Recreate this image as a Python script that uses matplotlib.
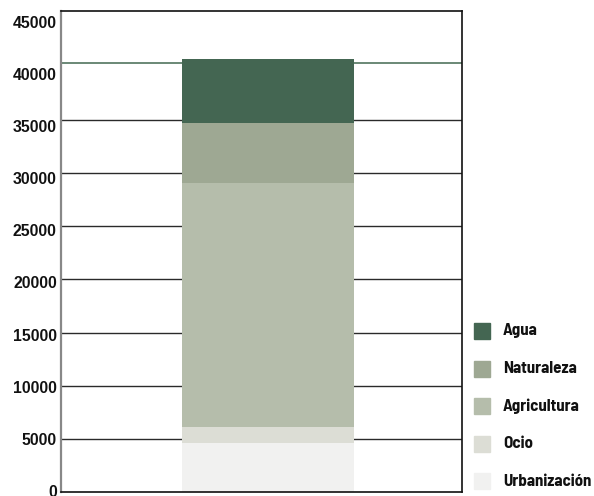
import matplotlib
matplotlib.use("Agg")
import matplotlib.pyplot as plt
from matplotlib.patches import Rectangle

# Land use stacked from the bottom up
categorias = ["Urbanización", "Ocio", "Agricultura", "Naturaleza", "Agua"]
valores = [4600, 1500, 23000, 5650, 6000]
colores = ["#f1f1f0", "#dcddd5", "#b5bdab", "#9ea893", "#446652"]
referencia = 40400
ticks = [0, 5000, 10000, 15000, 20000, 25000, 30000, 35000, 40000, 45000]
tick_labels = [str(t) for t in ticks]

num_font = ["Liberation Sans", "DejaVu Sans"]
leg_font = ["Barlow Semi Condensed", "DejaVu Sans"]

fig = plt.figure(figsize=(5.94, 4.96), dpi=100)
W, H = 594, 496
ax = fig.add_axes([61 / W, (496 - 492) / H, (462 - 61) / W, (492 - 11) / H])

ax.set_xlim(-0.722, 0.677)
ax.set_ylim(0, 45250)

# horizontal rules
for t in ticks[1:-2]:
    ax.axhline(t, color="#2a2a2a", lw=1.0, zorder=1)
ax.axhline(referencia, color="#5f7f6b", lw=1.3, zorder=1)

# stacked bar
base = 0
for cat, v, c in zip(categorias, valores, colores):
    ax.bar(0, v, bottom=base, width=0.6, color=c, zorder=2, label=cat)
    base += v

ax.set_xticks([])
ax.set_yticks([])
for side in ["top", "right", "bottom"]:
    ax.spines[side].set_color("#111111")
    ax.spines[side].set_linewidth(1.2)
ax.spines["left"].set_color("#888888")
ax.spines["left"].set_linewidth(1.6)

# value labels on the left
lab = ax.twinx()
lab.set_ylim(-96, 46020)
lab.yaxis.tick_left()
lab.set_yticks(ticks)
lab.set_yticklabels(tick_labels, fontfamily=num_font, fontweight="bold",
                    fontsize=11.4, color="#111111")
lab.tick_params(axis="y", length=0, pad=3)
lab.set_xticks([])
for s in lab.spines.values():
    s.set_visible(False)

# legend, top entry = top of the stack
y0 = 331
step = 37.5
for i, (cat, c) in enumerate(zip(categorias[::-1], colores[::-1])):
    yc = y0 + i * step
    fig.patches.append(Rectangle((474 / W, (H - yc - 8) / H), 16 / W, 16 / H,
                                 transform=fig.transFigure, color=c))
    fig.text(503 / W, (H - yc) / H, cat, fontfamily=leg_font,
             fontweight="bold", fontsize=12.2, va="center", ha="left",
             color="#111111")

fig.savefig("out.png", dpi=100)
